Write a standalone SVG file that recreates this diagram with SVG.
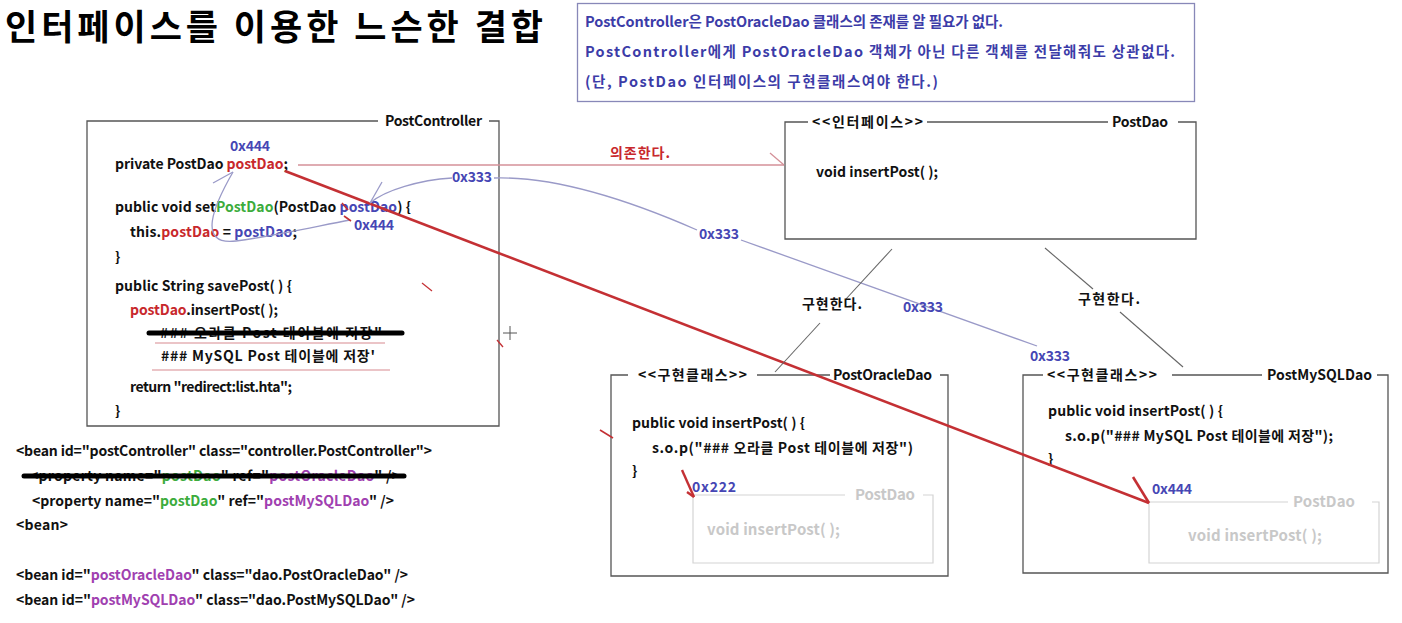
<svg xmlns="http://www.w3.org/2000/svg" width="1402" height="623" viewBox="0 0 1402 623">
<style>
text{font-family:"Noto Sans CJK KR","Noto Sans",sans-serif;font-weight:700;}
.t{font-size:14px;fill:#111;}
.title{font-size:35px;fill:#000;}
.info{font-size:14.5px;fill:#3c3ca8;}
.lbl{font-size:14px;fill:#111;}
.faint{font-size:15px;fill:#c8c8c8;}
.hx{font-size:14px;fill:#4646b4;}
.r{fill:#c8282c;}
.b{fill:#4646b4;}
.g{fill:#3cac3c;}
.p{fill:#a040b0;}
.box{fill:none;stroke:#555;stroke-width:1.3;}
.fbox{fill:none;stroke:#d4d4d4;stroke-width:1.2;}
.strike{stroke:#000;stroke-width:5;stroke-linecap:round;}
.ul{stroke:#d88a90;stroke-width:1.2;}
.blue{fill:none;stroke:#9a9ac8;stroke-width:1.3;}
.impl{stroke:#666;stroke-width:1.1;}
</style>
<rect width="1402" height="623" fill="#fff"/>

<text class="title" x="5" y="40" textLength="538">인터페이스를 이용한 느슨한 결합</text>

<g id="info">
<rect x="577.5" y="3.5" width="617" height="98" fill="#fff" stroke="#8888b8" stroke-width="1.3"/>
<text class="info" x="585" y="27" textLength="418">PostController은 PostOracleDao 클래스의 존재를 알 필요가 없다.</text>
<text class="info" x="585" y="57" textLength="590">PostController에게 PostOracleDao 객체가 아닌 다른 객체를 전달해줘도 상관없다.</text>
<text class="info" x="585" y="87" textLength="353">(단, PostDao 인터페이스의 구현클래스여야 한다.)</text>
</g>

<g id="postController">
<path class="box" d="M378,121 H87 V426 H499 V121 H489"/>
<text class="lbl" x="385" y="126" textLength="97">PostController</text>
<text class="t" x="115" y="169" textLength="173">private PostDao <tspan class="r">postDao</tspan>;</text>
<text class="hx" x="230" y="151" textLength="40">0x444</text>
<text class="t" x="115" y="212" textLength="296">public void set<tspan class="g">PostDao</tspan>(PostDao <tspan class="b">postDao</tspan>) {</text>
<text class="t" x="130" y="237" textLength="167">this.<tspan class="r">postDao</tspan> = <tspan class="b">postDao</tspan>;</text>
<text class="t" x="115" y="262">}</text>
<text class="t" x="115" y="291" textLength="177">public String savePost( ) {</text>
<text class="t" x="130" y="315" textLength="148"><tspan class="r">postDao</tspan>.insertPost( );</text>
<text class="t" x="160" y="338" textLength="222">### 오라클 Post 테이블에 저장"</text>
<line class="strike" x1="149" y1="333" x2="402" y2="333"/>
<line class="ul" x1="155" y1="343" x2="385" y2="343"/>
<text class="t" x="161" y="361" textLength="214">### MySQL Post 테이블에 저장'</text>
<line class="ul" x1="152" y1="370" x2="390" y2="370"/>
<text class="t" x="130" y="392" textLength="162">return "redirect:list.hta";</text>
<text class="t" x="115" y="416">}</text>
</g>

<g id="beans">
<text class="t" x="16" y="456" textLength="416">&lt;bean id="postController" class="controller.PostController"&gt;</text>
<text class="t" x="30" y="481" textLength="370">&lt;property name="<tspan class="g">postDao</tspan>" ref="<tspan class="p">postOracleDao</tspan>" /&gt;</text>
<line class="strike" x1="24" y1="476" x2="404" y2="476"/>
<text class="t" x="32" y="506" textLength="362">&lt;property name="<tspan class="g">postDao</tspan>" ref="<tspan class="p">postMySQLDao</tspan>" /&gt;</text>
<text class="t" x="16" y="530" textLength="52">&lt;bean&gt;</text>
<text class="t" x="16" y="580" textLength="392">&lt;bean id="<tspan class="p">postOracleDao</tspan>" class="dao.PostOracleDao" /&gt;</text>
<text class="t" x="16" y="605" textLength="399">&lt;bean id="<tspan class="p">postMySQLDao</tspan>" class="dao.PostMySQLDao" /&gt;</text>
</g>

<g id="postDaoInterface">
<path class="box" d="M808,122 H785 V239 H1196 V122 H1178"/>
<line class="box" x1="927" y1="122" x2="1108" y2="122"/>
<text class="lbl" x="812" y="127" textLength="111">&lt;&lt;인터페이스&gt;&gt;</text>
<text class="lbl" x="1112" y="127" textLength="56">PostDao</text>
<text class="t" x="816" y="177" textLength="122">void insertPost( );</text>
</g>

<g id="postOracleDao">
<path class="box" d="M628,375 H611 V576 H948 V375 H940"/>
<line class="box" x1="757" y1="375" x2="830" y2="375"/>
<text class="lbl" x="638" y="380" textLength="109">&lt;&lt;구현클래스&gt;&gt;</text>
<text class="lbl" x="833" y="380" textLength="99">PostOracleDao</text>
<text class="t" x="632" y="428" textLength="173">public void insertPost( ) {</text>
<text class="t" x="652" y="453" textLength="261">s.o.p("### 오라클 Post 테이블에 저장")</text>
<text class="t" x="632" y="476">}</text>
<text class="hx" x="692" y="492" textLength="44">0x222</text>
<path class="fbox" d="M845,495 H693 V563 H933 V495 H923"/>
<text class="faint" x="855" y="500" textLength="60">PostDao</text>
<text class="faint" x="707" y="535" textLength="133">void insertPost( );</text>
</g>

<g id="postMySQLDao">
<path class="box" d="M1043,375 H1023 V573 H1388 V375 H1377"/>
<line class="box" x1="1172" y1="375" x2="1262" y2="375"/>
<text class="lbl" x="1047" y="380" textLength="110">&lt;&lt;구현클래스&gt;&gt;</text>
<text class="lbl" x="1267" y="380" textLength="105">PostMySQLDao</text>
<text class="t" x="1048" y="416" textLength="175">public void insertPost( ) {</text>
<text class="t" x="1065" y="441" textLength="268">s.o.p("### MySQL Post 테이블에 저장");</text>
<text class="t" x="1048" y="464">}</text>
<text class="hx" x="1152" y="494" textLength="40">0x444</text>
<path class="fbox" d="M1288,502 H1149 V563 H1379 V502 H1372"/>
<text class="faint" x="1293" y="507" textLength="62">PostDao</text>
<text class="faint" x="1188" y="541" textLength="134">void insertPost( );</text>
</g>

<g id="connectors">
<line x1="298" y1="165" x2="784" y2="165" stroke="#d49098" stroke-width="1.3"/>
<line x1="770" y1="153" x2="784" y2="165" stroke="#d49098" stroke-width="1.3"/>
<text x="610" y="158" font-size="14" fill="#c8282c" textLength="60">의존한다.</text>
<line x1="285" y1="171" x2="1149" y2="503" stroke="#c43034" stroke-width="2.6"/>
<line x1="1133" y1="477" x2="1149" y2="503" stroke="#c43034" stroke-width="2.6"/>
<line x1="682" y1="470" x2="694" y2="497" stroke="#c43034" stroke-width="2.4"/>
<line x1="687" y1="492" x2="694" y2="497" stroke="#c43034" stroke-width="2.4"/>
<path class="blue" d="M233,172 C214,205 196,246 236,241 C275,236 318,226 350,220"/>
<line class="blue" x1="213" y1="183" x2="233" y2="172"/>
<path class="blue" d="M452,178 C420,180 385,190 370,203"/>
<line class="blue" x1="382" y1="182" x2="370" y2="203"/>
<text class="hx" x="452" y="182" textLength="40">0x333</text>
<path class="blue" d="M494,178 C560,176 640,205 697,230"/>
<text class="hx" x="699" y="239" textLength="40">0x333</text>
<path class="blue" d="M741,240 L1037,346"/>
<text class="hx" x="903" y="312" textLength="40">0x333</text>
<text class="hx" x="1030" y="361" textLength="40">0x333</text>
<text class="hx" x="354" y="230" textLength="40">0x444</text>
<line class="impl" x1="892" y1="249" x2="846" y2="299"/>
<text class="lbl" x="802" y="309" textLength="60">구현한다.</text>
<line class="impl" x1="820" y1="323" x2="775" y2="372"/>
<line class="impl" x1="1045" y1="248" x2="1093" y2="289"/>
<text class="lbl" x="1078" y="304" textLength="62">구현한다.</text>
<line class="impl" x1="1120" y1="312" x2="1183" y2="367"/>
<line x1="422" y1="283" x2="432" y2="291" stroke="#c43034" stroke-width="1.3"/>
<line x1="497" y1="340" x2="503" y2="347" stroke="#c43034" stroke-width="1.3"/>
<line x1="600" y1="430" x2="613" y2="438" stroke="#c43034" stroke-width="1.6"/>
<line x1="342" y1="203" x2="348" y2="210" stroke="#c43034" stroke-width="1.6"/>
<line x1="344" y1="216" x2="351" y2="221" stroke="#c43034" stroke-width="1.6"/>
<g stroke="#555" stroke-width="1"><line x1="503" y1="333" x2="517" y2="333"/><line x1="510" y1="326" x2="510" y2="340"/></g>
</g>
</svg>
